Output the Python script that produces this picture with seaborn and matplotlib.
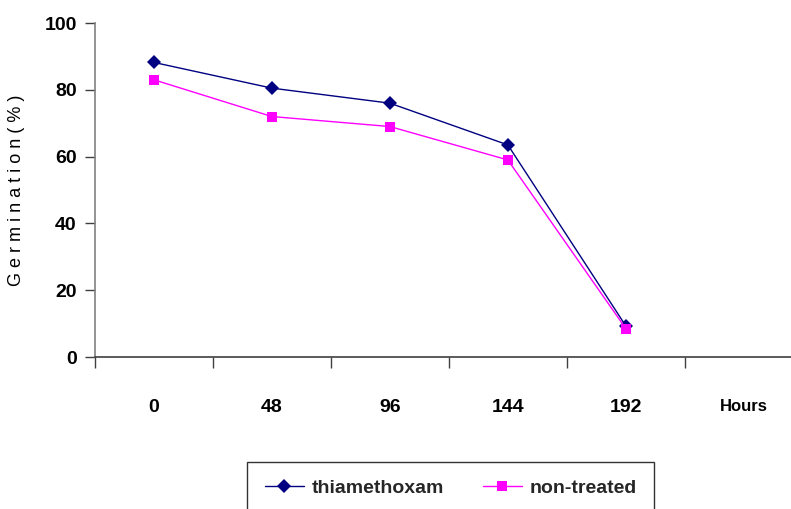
import matplotlib
matplotlib.use("Agg")
import matplotlib.pyplot as plt
import seaborn as sns
import pandas as pd

# values
hours = ["0", "48", "96", "144", "192"]
thiamethoxam = [88.2, 80.5, 76.0, 63.5, 9.3]
non_treated = [83.0, 72.0, 69.0, 59.0, 8.5]
tick_labels = hours + ["Hours"]

sns.set_theme(style="white")
plt.rcParams['font.family'] = ['Liberation Sans Narrow', 'Liberation Sans', 'DejaVu Sans']

rows = []
for i, h in enumerate(hours):
    rows.append([i, thiamethoxam[i], 'thiamethoxam'])
    rows.append([i, non_treated[i], 'non-treated'])
df = pd.DataFrame(rows, columns=['pos', 'Germination', 'Treatment'])

fig = plt.figure(figsize=(7.91, 5.09), dpi=100)
ax = fig.add_axes([0.12, 0.2986, 0.88, 0.6562])

sns.lineplot(data=df, x='pos', y='Germination', hue='Treatment', style='Treatment',
             palette={'thiamethoxam': '#000080', 'non-treated': '#FF00FF'},
             markers={'thiamethoxam': 'D', 'non-treated': 's'},
             dashes=False, markersize=7, linewidth=1, markeredgewidth=0,
             legend=False, ax=ax)

ax.set_xlim(-0.5, 5.4)
ax.set_ylim(0, 100)
ax.set_yticks([0, 20, 40, 60, 80, 100])
ax.set_yticklabels(['0', '20', '40', '60', '80', '100'], fontsize=14, fontweight='bold')

# category labels centred, ticks on category boundaries
ax.set_xticks(range(len(tick_labels)))
ax.set_xticklabels(tick_labels, fontsize=14, fontweight='bold')
ax.get_xticklabels()[-1].set_fontsize(12)
ax.set_xticks([i - 0.5 for i in range(len(tick_labels))], minor=True)
ax.tick_params(axis='x', which='major', bottom=True, length=0, pad=30, labelcolor='black')
ax.tick_params(axis='x', which='minor', bottom=True, length=8, width=1, color='#404040', direction='out')
ax.tick_params(axis='y', left=True, length=7, width=1, color='#404040', direction='out', pad=6,
               labelcolor='black')

ax.set_xlabel('')
ax.set_ylabel('G e r m i n a t i o n ( % )', fontsize=13, color='black', labelpad=14)

for s in ['top', 'right']:
    ax.spines[s].set_visible(False)
ax.spines['left'].set_color('#808080')
ax.spines['bottom'].set_color('#404040')
ax.spines['left'].set_linewidth(1.2)
ax.spines['bottom'].set_linewidth(1.2)

handles = [plt.Line2D([], [], color='#000080', marker='D', markersize=7, linewidth=1, markeredgewidth=0),
           plt.Line2D([], [], color='#FF00FF', marker='s', markersize=7, linewidth=1, markeredgewidth=0)]
leg = fig.legend(handles, ['thiamethoxam', 'non-treated'], loc='upper center',
                 bbox_to_anchor=(0.570, 0.092), ncol=2, frameon=True, fancybox=False,
                 prop={'size': 14, 'weight': 'bold'}, handlelength=2.0, handletextpad=0.4,
                 columnspacing=2.0, borderpad=0.9, borderaxespad=0)
leg.get_frame().set_edgecolor('black')
leg.get_frame().set_linewidth(1)

plt.savefig('out.png', dpi=100)
